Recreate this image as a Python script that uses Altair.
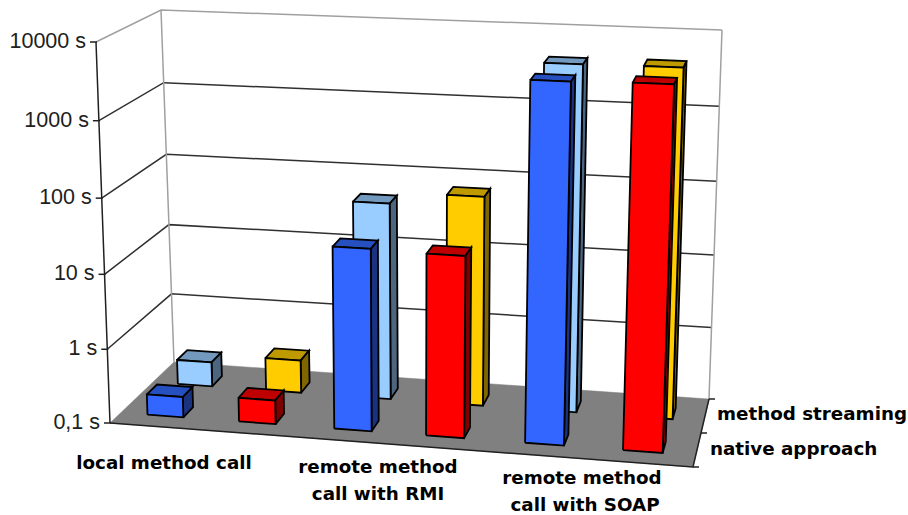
import math

import altair as alt
import pandas as pd

# Benchmark durations in seconds: one list per column pair, left to right.
slots = ["local native", "local streaming", "rmi native", "rmi streaming", "soap native", "soap streaming"]
native_approach = [0.19, 0.21, 26.8, 25.5, 4790, 5040]
method_streaming = [0.22, 0.285, 50, 72, 4500, 4620]

value_ticks = [0.1, 1, 10, 100, 1000, 10000]
value_tick_labels = ["0,1 s", "1 s", "10 s", "100 s", "1000 s", "10000 s"]
category_lines = ["local method call", "remote method", "call with RMI", "remote method", "call with SOAP"]
depth_labels = ["native approach", "method streaming"]

# Cube corners on the page, keyed (left/right, front/back, bottom/top).
CORNERS = {
    (0, 0, 0): (110, 423), (0, 1, 0): (174, 362), (1, 0, 0): (693, 467), (1, 1, 0): (709, 399),
    (0, 0, 1): (96, 42), (0, 1, 1): (161, 10), (1, 0, 1): (707, 68), (1, 1, 1): (722, 30),
}
BAR_WIDTH = 0.066
ROW_START = [0.17, 0.67]
ROW_DEPTH = 0.165
WARP = 0.964
HEIGHT_WARP = 0.96
# Small per-column shifts along the category axis, front row then back row.
NUDGE = [
    [-0.002, -0.005, -0.0035, -0.010, -0.006, -0.006],
    [-0.003, -0.005, -0.008, -0.008, -0.008, -0.005],
]

# Front colour, top colour and side colour for each column.
FACES = [
    [("#3366FF", "#2650C0", "#1A3380"), ("#FF0000", "#BF0000", "#800000")],
    [("#99CCFF", "#7399BF", "#4D6680"), ("#FFCC00", "#BF9900", "#806600")],
]


def project(u, v, w):
    """Trilinear mapping of the unit cube onto the page."""
    x = y = 0.0
    for (a, b, c), (px, py) in CORNERS.items():
        k = (u if a else 1 - u) * (v if b else 1 - v) * (w if c else 1 - w)
        x += k * px
        y += k * py
    return x, y


def warp(u, k):
    """Perspective foreshortening along one axis of the cube."""
    return u * k / (1 + u * (k - 1))


def height_of(value):
    return warp((math.log10(value) + 1) / 5, HEIGHT_WARP)


rows = []
poly_id = 0


def add_poly(points, fill, stroke, width=1.8):
    global poly_id
    poly_id += 1
    for i, p in enumerate(points):
        x, y = project(*p)
        rows.append(dict(poly=poly_id, i=i, x=x, y=y, fill=fill, stroke=stroke, sw=width))


# Floor
add_poly([(0, 0, 0), (1, 0, 0), (1, 1, 0), (0, 1, 0), (0, 0, 0)], "#808080", "#808080", 0.5)
# Gridlines over the side and back walls
for tick in value_ticks[1:]:
    w = height_of(tick)
    colour = "#a0a0a0" if tick == value_ticks[-1] else "#303030"
    add_poly([(0, 0, w), (0, 1, w), (1, 1, w)], "none", colour, 1.5)
# Wall edges
add_poly([(0, 1, 0), (0, 1, 1)], "none", "#a0a0a0", 1.5)
add_poly([(1, 1, 0), (1, 1, 1)], "none", "#a0a0a0", 1.5)
# Axis lines
add_poly([(0, 0, 0), (0, 0, 1)], "none", "#202020", 1.5)
add_poly([(0, 0, 0), (1, 0, 0), (1, 1, 0)], "none", "#202020", 1.5)

# Columns, back row first so that the front row covers it
for row in (1, 0):
    values = method_streaming if row == 1 else native_approach
    v0, v1 = ROW_START[row], ROW_START[row] + ROW_DEPTH
    for s, value in enumerate(values):
        u0 = warp((s + 0.3) / 6, WARP) + NUDGE[row][s]
        u1 = u0 + BAR_WIDTH * (1 + 0.12 * (u0 - 0.5))
        w = height_of(value)
        front, top, side = FACES[row][s % 2]
        add_poly([(u0, v0, w), (u1, v0, w), (u1, v1, w), (u0, v1, w), (u0, v0, w)], top, "#000000")
        add_poly([(u1, v0, 0), (u1, v1, 0), (u1, v1, w), (u1, v0, w), (u1, v0, 0)], side, "#000000")
        add_poly([(u0, v0, 0), (u1, v0, 0), (u1, v0, w), (u0, v0, w), (u0, v0, 0)], front, "#000000")

polys = pd.DataFrame(rows)

page_x = alt.Scale(domain=[0, 908], range=[0, 908])
page_y = alt.Scale(domain=[0, 515], range=[0, 515])
X = alt.X("x:Q", scale=page_x, axis=None)
Y = alt.Y("y:Q", scale=page_y, axis=None)

shapes = alt.Chart(polys).mark_line(interpolate="linear", strokeJoin="miter", clip=False).encode(
    x=X, y=Y, order="i:Q", detail="poly:N",
    fill=alt.Fill("fill:N", scale=None),
    stroke=alt.Stroke("stroke:N", scale=None),
    strokeWidth=alt.StrokeWidth("sw:Q", scale=None),
)

# Short tick marks along the value and depth axes
tick_rows = []
for n, tick in enumerate(value_ticks):
    x, y = project(0, 0, height_of(tick))
    tick_rows.append(dict(id=f"v{n}", i=0, x=x - 6, y=y))
    tick_rows.append(dict(id=f"v{n}", i=1, x=x + 1, y=y))
for n, v in enumerate([0, 0.5, 1]):
    x, y = project(1, v, 0)
    tick_rows.append(dict(id=f"d{n}", i=0, x=x, y=y))
    tick_rows.append(dict(id=f"d{n}", i=1, x=x + 6, y=y))
ticks = alt.Chart(pd.DataFrame(tick_rows)).mark_line(color="#202020", strokeWidth=1.5).encode(
    x=X, y=Y, order="i:Q", detail="id:N"
)

value_text = pd.DataFrame([
    dict(label=label, x=project(0, 0, height_of(t))[0] - 10, y=project(0, 0, height_of(t))[1])
    for t, label in zip(value_ticks, value_tick_labels)
])
value_labels = alt.Chart(value_text).mark_text(
    align="right", baseline="middle", font="Liberation Sans", fontSize=21.5, color="#202020"
).encode(x=X, y=Y, text="label:N")

CATEGORY_ANCHORS = [(164, 464), (378, 468), (378, 495), (582, 479), (585, 506)]
category_text = pd.DataFrame([
    dict(label=t, x=a[0], y=a[1]) for t, a in zip(category_lines, CATEGORY_ANCHORS)
])
category_labels = alt.Chart(category_text).mark_text(
    align="center", baseline="middle", font="DejaVu Sans", fontWeight="bold", fontSize=18.3, color="#000000"
).encode(x=X, y=Y, text="label:N")

DEPTH_ANCHORS = [(710, 450), (717, 415)]
depth_text = pd.DataFrame([
    dict(label=t, x=a[0], y=a[1]) for t, a in zip(depth_labels, DEPTH_ANCHORS)
])
depth_marks = alt.Chart(depth_text).mark_text(
    align="left", baseline="middle", font="DejaVu Sans", fontWeight="bold", fontSize=18.3, color="#000000"
).encode(x=X, y=Y, text="label:N")

chart = alt.layer(shapes, ticks, value_labels, category_labels, depth_marks).properties(
    width=908, height=515, padding=0, autosize=alt.AutoSizeParams(type="none"), background="#ffffff"
).configure_view(stroke=None)

chart.save("out.html", embed_options={"renderer": "svg", "actions": False})
